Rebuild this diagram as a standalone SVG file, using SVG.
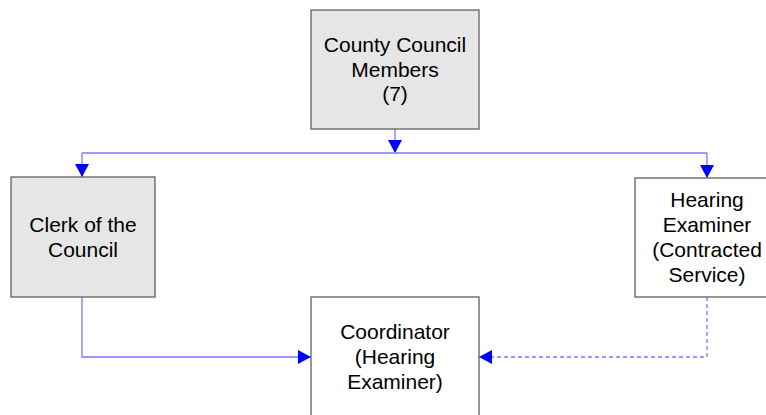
<svg xmlns="http://www.w3.org/2000/svg" width="766" height="415" viewBox="0 0 766 415">
<style>
.box{stroke:#606060;stroke-width:1.3}
.g{fill:#e6e6e6}
.w{fill:#ffffff}
.t{font-family:"Liberation Sans",Arial,sans-serif;font-size:21px;fill:#000;text-anchor:middle}
.c{fill:none;stroke:#7878ff;stroke-width:1.3}
.d{stroke-dasharray:4 3}
</style>
<defs>
<marker id="ah" markerUnits="userSpaceOnUse" markerWidth="14" markerHeight="14" viewBox="0 0 14 14" refX="13" refY="7" orient="auto">
<path d="M0,0 L13,7 L0,14 Z" fill="#0000ff"/>
</marker>
</defs>
<rect width="766" height="415" fill="#ffffff"/>
<g id="connectors">
<line class="c" x1="395" y1="129" x2="395" y2="153" marker-end="url(#ah)"/>
<line class="c" x1="82" y1="153" x2="707" y2="153"/>
<line class="c" x1="82" y1="153" x2="82" y2="177" marker-end="url(#ah)"/>
<line class="c" x1="707" y1="153" x2="707" y2="178" marker-end="url(#ah)"/>
<polyline class="c" points="82,297 82,357 311,357" marker-end="url(#ah)"/>
<polyline class="c d" points="707,297 707,357 479,357" marker-end="url(#ah)"/>
</g>
<g id="county-council">
<rect class="box g" x="311" y="10" width="168" height="119"/>
<text class="t" x="395" y="52">County Council</text>
<text class="t" x="395" y="77">Members</text>
<text class="t" x="395" y="101">(7)</text>
</g>
<g id="clerk">
<rect class="box g" x="11" y="177" width="144" height="120"/>
<text class="t" x="83" y="232">Clerk of the</text>
<text class="t" x="83" y="257">Council</text>
</g>
<g id="hearing-examiner">
<rect class="box w" x="635" y="178" width="144" height="119"/>
<text class="t" x="707" y="207">Hearing</text>
<text class="t" x="707" y="232">Examiner</text>
<text class="t" x="707" y="257">(Contracted</text>
<text class="t" x="707" y="282">Service)</text>
</g>
<g id="coordinator">
<rect class="box w" x="311" y="297" width="168" height="130"/>
<text class="t" x="395" y="339">Coordinator</text>
<text class="t" x="395" y="364">(Hearing</text>
<text class="t" x="395" y="389">Examiner)</text>
</g>
</svg>
